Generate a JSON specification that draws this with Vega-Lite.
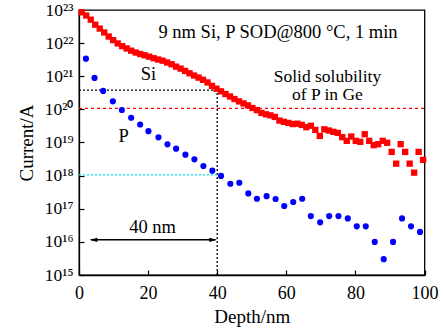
{
  "$schema": "https://vega.github.io/schema/vega-lite/v6.json",
  "autosize": "none",
  "width": 345.5,
  "height": 265,
  "padding": {"left": 79, "top": 10, "right": 18.5, "bottom": 56},
  "config": {
    "font": "Liberation Serif",
    "view": {"stroke": "black", "strokeWidth": 1.3},
    "axis": {
      "domainColor": "black", "domainWidth": 1.3, "tickColor": "black", "tickWidth": 1.2,
      "grid": false, "labelColor": "black", "titleColor": "black",
      "labelFont": "Liberation Serif", "titleFont": "Liberation Serif",
      "labelFontSize": 17.5, "titleFontSize": 19, "titleFontWeight": "normal"
    }
  },
  "datasets": {
    "si": [
      {"depth": 0.8, "current": 8.5e22}, {"depth": 2.1, "current": 6.8e22}, {"depth": 3.4, "current": 5.1e22},
      {"depth": 4.7, "current": 3.6e22}, {"depth": 6.0, "current": 2.75e22}, {"depth": 7.3, "current": 2.1e22},
      {"depth": 8.6, "current": 1.58e22}, {"depth": 9.9, "current": 1.23e22}, {"depth": 11.2, "current": 9.8e21},
      {"depth": 12.5, "current": 8.1e21}, {"depth": 13.8, "current": 6.9e21}, {"depth": 15.1, "current": 5.9e21},
      {"depth": 16.4, "current": 5.2e21}, {"depth": 17.7, "current": 4.7e21}, {"depth": 19.0, "current": 4.3e21},
      {"depth": 20.3, "current": 3.9e21}, {"depth": 21.6, "current": 3.5e21}, {"depth": 22.9, "current": 3.2e21},
      {"depth": 24.2, "current": 2.95e21}, {"depth": 25.5, "current": 2.6e21}, {"depth": 26.8, "current": 2.3e21},
      {"depth": 28.1, "current": 1.95e21}, {"depth": 29.4, "current": 1.7e21}, {"depth": 30.7, "current": 1.45e21},
      {"depth": 32.0, "current": 1.23e21}, {"depth": 33.3, "current": 1.05e21}, {"depth": 34.6, "current": 9.1e20},
      {"depth": 35.9, "current": 7.8e20}, {"depth": 37.2, "current": 6.5e20}, {"depth": 38.5, "current": 5.1e20},
      {"depth": 39.8, "current": 4.2e20}, {"depth": 41.1, "current": 3.5e20}, {"depth": 42.4, "current": 2.9e20},
      {"depth": 43.7, "current": 2.45e20}, {"depth": 45.0, "current": 2.05e20}, {"depth": 46.3, "current": 1.74e20},
      {"depth": 47.6, "current": 1.51e20}, {"depth": 48.9, "current": 1.32e20}, {"depth": 50.2, "current": 1.1e20},
      {"depth": 51.5, "current": 9.5e19}, {"depth": 52.8, "current": 7.8e19}, {"depth": 54.1, "current": 7.1e19},
      {"depth": 55.4, "current": 6.6e19}, {"depth": 56.7, "current": 5.9e19}, {"depth": 58.0, "current": 4.6e19},
      {"depth": 59.3, "current": 4.2e19}, {"depth": 60.6, "current": 3.9e19}, {"depth": 61.9, "current": 3.6e19},
      {"depth": 63.2, "current": 3.7e19}, {"depth": 64.5, "current": 3.4e19}, {"depth": 65.8, "current": 2.9e19},
      {"depth": 67.1, "current": 3.2e19}, {"depth": 68.4, "current": 2.4e19}, {"depth": 69.7, "current": 1.58e19},
      {"depth": 71.0, "current": 2.5e19}, {"depth": 72.3, "current": 2.3e19}, {"depth": 73.6, "current": 2.1e19},
      {"depth": 74.9, "current": 1.95e19}, {"depth": 76.2, "current": 1.45e19}, {"depth": 77.5, "current": 1.12e19},
      {"depth": 78.8, "current": 1.51e19}, {"depth": 80.1, "current": 1.12e19}, {"depth": 81.4, "current": 1.05e19},
      {"depth": 82.7, "current": 1.78e19}, {"depth": 84.0, "current": 1.12e19}, {"depth": 85.3, "current": 8.3e18},
      {"depth": 86.6, "current": 8.9e18}, {"depth": 87.9, "current": 1.12e19}, {"depth": 89.2, "current": 9.8e18},
      {"depth": 90.5, "current": 5.2e18}, {"depth": 91.8, "current": 2.3e18}, {"depth": 93.1, "current": 8.9e18},
      {"depth": 94.4, "current": 5.2e18}, {"depth": 95.7, "current": 2.3e18}, {"depth": 97.0, "current": 1.23e18},
      {"depth": 98.3, "current": 5.2e18}, {"depth": 99.6, "current": 3.0e18}
    ],
    "p": [
      {"depth": 2.0, "current": 3.4e21}, {"depth": 4.5, "current": 8.9e20}, {"depth": 7.0, "current": 3.6e20},
      {"depth": 9.8, "current": 1.75e20}, {"depth": 12.4, "current": 9.6e19}, {"depth": 15.1, "current": 5.6e19},
      {"depth": 17.7, "current": 3.5e19}, {"depth": 20.1, "current": 2.2e19}, {"depth": 23.0, "current": 1.43e19},
      {"depth": 25.6, "current": 8.8e18}, {"depth": 28.1, "current": 6.5e18}, {"depth": 30.8, "current": 4.3e18},
      {"depth": 33.4, "current": 3.1e18}, {"depth": 36.0, "current": 1.95e18}, {"depth": 38.6, "current": 1.41e18},
      {"depth": 41.1, "current": 9.8e17}, {"depth": 43.8, "current": 5.7e17}, {"depth": 46.4, "current": 6.1e17},
      {"depth": 49.0, "current": 2.9e17}, {"depth": 51.5, "current": 2.0e17}, {"depth": 54.3, "current": 2.4e17},
      {"depth": 56.9, "current": 1.97e17}, {"depth": 59.4, "current": 1.21e17}, {"depth": 62.0, "current": 1.6e17},
      {"depth": 64.6, "current": 2.0e17}, {"depth": 67.1, "current": 6.0e16}, {"depth": 69.8, "current": 3.9e16},
      {"depth": 72.4, "current": 6.0e16}, {"depth": 75.1, "current": 6.0e16}, {"depth": 77.8, "current": 5.1e16},
      {"depth": 80.4, "current": 2.95e16}, {"depth": 83.0, "current": 2.95e16}, {"depth": 85.6, "current": 1.0e16},
      {"depth": 88.2, "current": 3.0e15}, {"depth": 90.9, "current": 1.0e16}, {"depth": 93.5, "current": 5.1e16},
      {"depth": 96.1, "current": 2.95e16}, {"depth": 98.7, "current": 2.0e16}
    ]
  },
  "layer": [
    {
      "data": {"values": [{"x1": 0, "x2": 100, "y1": 1.07e20, "y2": 1.07e20}]},
      "mark": {"type": "rule", "color": "#ff0000", "strokeWidth": 1.3, "strokeDash": [3, 3]},
      "encoding": {
        "x": {"field": "x1", "type": "quantitative", "scale": {"domain": [0, 100], "nice": false, "zero": false},
              "axis": {"values": [0, 20, 40, 60, 80, 100], "title": "Depth/nm", "tickSize": -5, "labelPadding": 14, "titlePadding": 5, "labelFlush": false, "labelFontSize": 18}},
        "x2": {"field": "x2"},
        "y": {"field": "y1", "type": "quantitative",
              "scale": {"type": "log", "domain": [1e15, 1e23], "nice": false},
              "axis": {"values": [1e15, 1e16, 1e17, 1e18, 1e19, 1e20, 1e21, 1e22, 1e23], "title": "Current/A", "tickSize": -5, "labelPadding": 11, "titlePadding": 8, "labelFlush": false,
                       "labelExpr": "['10¹⁵','10¹⁶','10¹⁷','10¹⁸','10¹⁹','10²⁰','10²¹','10²²','10²³'][round(log(datum.value)/LN10)-15]"}},
        "y2": {"field": "y2"}
      }
    },
    {
      "data": {"values": [{"x1": 0, "x2": 40, "y1": 3.8e20, "y2": 3.8e20}, {"x1": 40, "x2": 40, "y1": 1e15, "y2": 3.8e20}]},
      "mark": {"type": "rule", "color": "black", "strokeWidth": 1.3, "strokeDash": [2, 2]},
      "encoding": {
        "x": {"field": "x1", "type": "quantitative"}, "x2": {"field": "x2"},
        "y": {"field": "y1", "type": "quantitative"}, "y2": {"field": "y2"}
      }
    },
    {
      "data": {"values": [{"x1": 0, "x2": 40, "y1": 1.05e18, "y2": 1.05e18}]},
      "mark": {"type": "rule", "color": "#00e0f0", "strokeWidth": 1.3, "strokeDash": [2, 2]},
      "encoding": {
        "x": {"field": "x1", "type": "quantitative"}, "x2": {"field": "x2"},
        "y": {"field": "y1", "type": "quantitative"}, "y2": {"field": "y2"}
      }
    },
    {
      "data": {"values": [{"x1": 3.5, "x2": 39.5, "y1": 1.15e16, "y2": 1.15e16}]},
      "mark": {"type": "rule", "color": "black", "strokeWidth": 1.5},
      "encoding": {
        "x": {"field": "x1", "type": "quantitative"}, "x2": {"field": "x2"},
        "y": {"field": "y1", "type": "quantitative"}, "y2": {"field": "y2"}
      }
    },
    {
      "data": {"values": [{"x": 4.2, "y": 1.15e16, "dir": "left"}]},
      "mark": {"type": "point", "shape": "M -1 0 L 1 -0.55 L 1 0.55 Z", "filled": true, "color": "black", "size": 60, "opacity": 1},
      "encoding": {"x": {"field": "x", "type": "quantitative"}, "y": {"field": "y", "type": "quantitative"}}
    },
    {
      "data": {"values": [{"x": 38.8, "y": 1.15e16, "dir": "right"}]},
      "mark": {"type": "point", "shape": "M 1 0 L -1 -0.55 L -1 0.55 Z", "filled": true, "color": "black", "size": 60, "opacity": 1},
      "encoding": {"x": {"field": "x", "type": "quantitative"}, "y": {"field": "y", "type": "quantitative"}}
    },
    {
      "data": {"name": "si"},
      "mark": {"type": "point", "shape": "square", "filled": true, "color": "#ff0000", "size": 40, "opacity": 1},
      "encoding": {"x": {"field": "depth", "type": "quantitative"}, "y": {"field": "current", "type": "quantitative"}}
    },
    {
      "data": {"name": "p"},
      "mark": {"type": "circle", "color": "#0000ff", "size": 38, "opacity": 1},
      "encoding": {"x": {"field": "depth", "type": "quantitative"}, "y": {"field": "current", "type": "quantitative"}}
    },
    {
      "data": {"values": [
        {"x": 57.6, "y": 2.2e22, "label": "9 nm Si, P SOD@800 °C, 1 min"},
        {"x": 20.1, "y": 1.2e21, "label": "Si"},
        {"x": 12.9, "y": 1.6e19, "label": "P"},
        {"x": 21.3, "y": 2.9e16, "label": "40 nm"}
      ]},
      "mark": {"type": "text", "font": "Liberation Serif", "fontSize": 18.5, "color": "black", "baseline": "middle", "align": "center"},
      "encoding": {"x": {"field": "x", "type": "quantitative"}, "y": {"field": "y", "type": "quantitative"}, "text": {"field": "label"}}
    },
    {
      "data": {"values": [
        {"x": 71.9, "y": 9.6e20, "label": "Solid solubility"},
        {"x": 71.9, "y": 2.65e20, "label": "of P in Ge"}
      ]},
      "mark": {"type": "text", "font": "Liberation Serif", "fontSize": 17.5, "color": "black", "baseline": "middle", "align": "center"},
      "encoding": {"x": {"field": "x", "type": "quantitative"}, "y": {"field": "y", "type": "quantitative"}, "text": {"field": "label"}}
    }
  ]
}
